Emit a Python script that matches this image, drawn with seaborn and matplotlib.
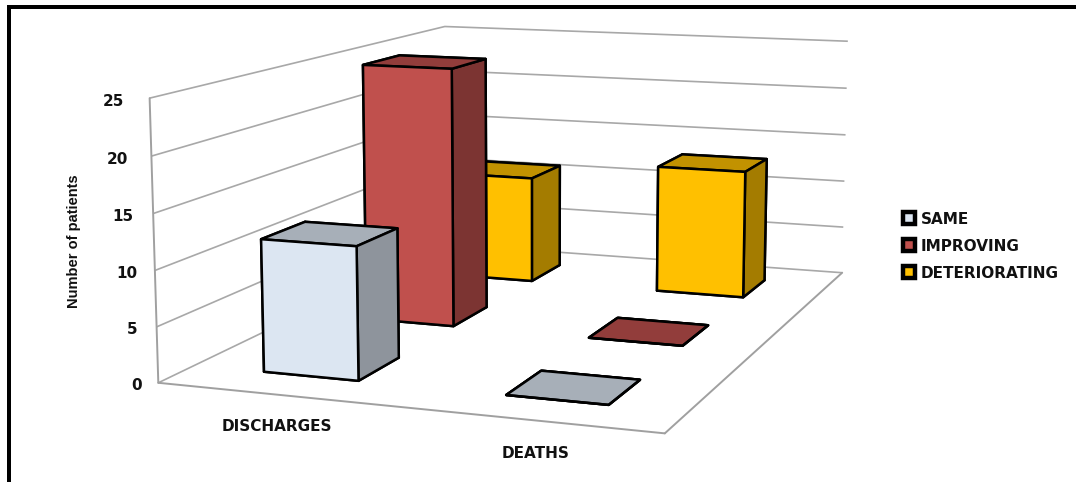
import matplotlib
matplotlib.use('Agg')
import matplotlib.pyplot as plt
from matplotlib.lines import Line2D
from matplotlib.patches import Rectangle
import numpy as np
import pandas as pd
import seaborn as sns

# Patient outcomes per category
categories = ['DISCHARGES', 'DEATHS']
series_names = ['SAME', 'IMPROVING', 'DETERIORATING']
same = [12, 0]
improving = [25, 0]
deteriorating = [11, 13]
z_ticks = [0, 5, 10, 15, 20, 25]
y_title = 'Number of patients'

sns.set_theme(style='white')
plt.rcParams['grid.color'] = '#a8a8a8'
plt.rcParams['grid.linewidth'] = 1.2
palette = sns.color_palette(['#dce6f2', '#c0504d', '#ffc000'])

table = pd.DataFrame({'SAME': same, 'IMPROVING': improving, 'DETERIORATING': deteriorating},
                     index=categories)

W, H = 1076, 482
fig = plt.figure(figsize=(W / 100, H / 100), dpi=100)
fig.patch.set_facecolor('white')

# Heavy black frame along the top and left of the figure
fig.add_artist(Rectangle((7 / W, 1 - 9 / H), 1 - 7 / W, 4 / H, transform=fig.transFigure,
                         facecolor='black', edgecolor='none'))
fig.add_artist(Rectangle((7 / W, 0), 4 / W, 1 - 5 / H, transform=fig.transFigure,
                         facecolor='black', edgecolor='none'))

side = 848.1
ax = fig.add_axes([100.7 / W, (H - 631.1) / H, side / W, side / H], projection='3d')
ax.set_proj_type('persp', focal_length=0.484)
ax.view_init(elev=9.993, azim=-69.939)
ax.set_box_aspect((1, 1.433, 0.543))
ax.computed_zorder = False
ax.patch.set_alpha(0)

n_cat, n_ser = len(categories), len(series_names)
ax.set_xlim(0, n_cat)
ax.set_ylim(0, n_ser)
ax.set_zlim(z_ticks[0], z_ticks[-1])
ax.set_xticks([])
ax.set_yticks([])
ax.set_zticks(z_ticks)
ax.tick_params(axis='z', color=(0, 0, 0, 0))
ax.zaxis.set_tick_params(labelleft=False, labelright=False)
ax.grid(True)

for axis in (ax.xaxis, ax.yaxis, ax.zaxis):
    axis.pane.set_facecolor('white')
    axis.pane.set_edgecolor('none')
    axis.line.set_color((0, 0, 0, 0))
    axis.label.set_visible(False)
    axis.offsetText.set_visible(False)

# Floor outline and the front vertical edge of the left wall
edge = dict(color='#a0a0a0', lw=1.4, zorder=0.5)
ax.plot([0, n_cat], [0, 0], [0, 0], **edge)
ax.plot([n_cat, n_cat], [0, n_ser], [0, 0], **edge)
ax.plot([0, 0], [0, 0], [z_ticks[0], z_ticks[-1]], **edge)


def faces(colour):
    rgb = np.array(colour)
    top, dark = tuple(rgb * 0.76), tuple(rgb * 0.645)
    # bottom, top, front, back, left, right
    return [top, top, tuple(rgb), tuple(rgb), dark, dark]


# Bars are painted from the back row to the front row
bar_w = 0.4
order = 2.0
for j in reversed(range(n_ser)):
    name = series_names[j]
    for i, cat in enumerate(categories):
        ax.bar3d(i + 0.3, j + 0.3, 0, bar_w, bar_w, table.loc[cat, name],
                 color=faces(palette[j]), edgecolor='black', linewidth=1.8,
                 shade=False, zorder=order)
        order += 1

tick_style = dict(fontsize=11, fontweight='bold', color='#111111', ha='center', va='center')
for v in z_ticks:
    ax.text(-0.095 - 0.0024 * v, 0, v - 0.45, str(v), **tick_style)

cat_style = dict(fontsize=11, fontweight='bold', color='#111111', ha='center', va='center')
label_x = [0.69, 1.66]
label_y = [-0.4, -0.4]
for cat, lx, ly in zip(categories, label_x, label_y):
    ax.text(lx, ly, 0, cat, **cat_style)

fig.text(74 / W, 1 - 241 / H, y_title, rotation=90, ha='center', va='center',
         fontsize=10.5, fontweight='bold', color='#111111', family='Liberation Sans')

handles = [Line2D([], [], linestyle='none', marker='s', markersize=9, markeredgewidth=3.2,
                  markeredgecolor='black', markerfacecolor=c) for c in palette]
fig.legend(handles, series_names, loc='center left', bbox_to_anchor=(901 / W, 1 - 246.5 / H),
           frameon=False, prop=dict(size=11, weight='bold'), handlelength=1.1, handleheight=1,
           handletextpad=0.2, labelspacing=0.78, borderpad=0, borderaxespad=0,
           labelcolor='#111111')

fig.savefig('out.png', dpi=100)
